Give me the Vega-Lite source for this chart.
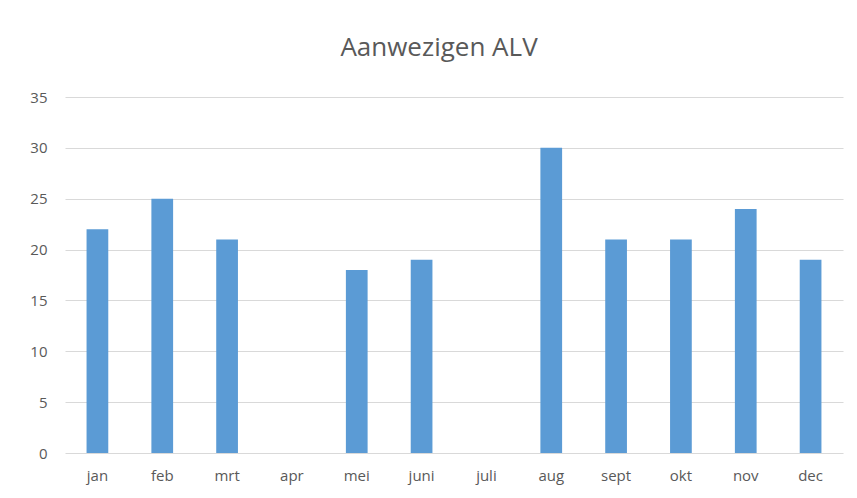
{
  "$schema": "https://vega.github.io/schema/vega-lite/v6.json",
  "width": 778,
  "height": 356,
  "autosize": {"type": "none"},
  "padding": {"left": 65, "top": 97, "right": 14, "bottom": 45},
  "background": "white",
  "title": {
    "text": "Aanwezigen ALV",
    "font": "Open Sans",
    "fontSize": 26,
    "fontWeight": "normal",
    "color": "#595959",
    "anchor": "middle",
    "dx": -15,
    "offset": 29
  },
  "data": {
    "values": [
      {"maand": "jan", "aantal": 22},
      {"maand": "feb", "aantal": 25},
      {"maand": "mrt", "aantal": 21},
      {"maand": "apr", "aantal": null},
      {"maand": "mei", "aantal": 18},
      {"maand": "juni", "aantal": 19},
      {"maand": "juli", "aantal": null},
      {"maand": "aug", "aantal": 30},
      {"maand": "sept", "aantal": 21},
      {"maand": "okt", "aantal": 21},
      {"maand": "nov", "aantal": 24},
      {"maand": "dec", "aantal": 19}
    ]
  },
  "mark": {"type": "bar", "color": "#5b9bd5"},
  "encoding": {
    "x": {
      "field": "maand",
      "type": "nominal",
      "sort": null,
      "scale": {
        "domain": ["jan", "feb", "mrt", "apr", "mei", "juni", "juli", "aug", "sept", "okt", "nov", "dec"],
        "paddingInner": 0.665,
        "paddingOuter": 0.3325
      },
      "axis": {
        "title": null,
        "labelAngle": 0,
        "labelFont": "Open Sans",
        "labelFontSize": 15,
        "labelColor": "#595959",
        "labelPadding": 15,
        "ticks": false,
        "domain": false,
        "grid": false
      }
    },
    "y": {
      "field": "aantal",
      "type": "quantitative",
      "scale": {"domain": [0, 35], "nice": false},
      "axis": {
        "title": null,
        "values": [0, 5, 10, 15, 20, 25, 30, 35],
        "labelFont": "Open Sans",
        "labelFontSize": 15,
        "labelColor": "#595959",
        "labelPadding": 18,
        "ticks": false,
        "domain": false,
        "grid": true,
        "gridColor": "#d9d9d9",
        "gridWidth": 1
      }
    }
  },
  "config": {"view": {"stroke": null}}
}
